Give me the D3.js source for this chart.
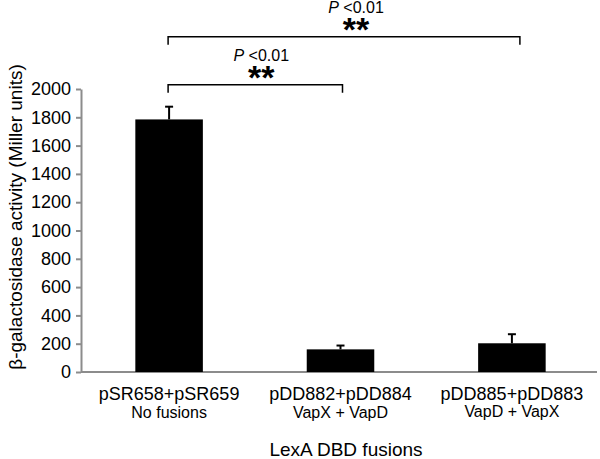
<!DOCTYPE html>
<html>
<head>
  <meta charset="utf-8">
  <style>
    body { margin: 0; background: #fff; }
    svg { display: block; font-family: "Liberation Sans", Arial, sans-serif; }
    .axis path, .axis line { stroke: #8c8c8c; stroke-width: 2; fill: none; }
    .axis text { fill: #000; font-size: 18px; }
  </style>
</head>
<body>
<svg width="600" height="459"></svg>
<script src="https://d3js.org/d3.v7.min.js"></script>
<script>
  // data
  var plasmids = ["pSR658+pSR659", "pDD882+pDD884", "pDD885+pDD883"];
  var fusions = ["No fusions", "VapX + VapD", "VapD + VapX"];
  var activity = [1785, 160, 203];
  var errors = [90, 27, 64];
  var yTicks = [0, 200, 400, 600, 800, 1000, 1200, 1400, 1600, 1800, 2000];
  // significance brackets: from bar a to bar b, bracket level in Miller units
  var brackets = [
    {a: 0, b: 1, level: 2030, label: "<0.01", stars: "**"},
    {a: 0, b: 2, level: 2370, label: "<0.01", stars: "**"}
  ];

  var svg = d3.select("svg");
  var mLeft = 81, mRight = 600, mTop = 89, mBottom = 372;

  var x = d3.scaleBand()
    .domain(plasmids)
    .range([mLeft, mRight])
    .paddingInner(0.606)
    .paddingOuter(0.317);

  var y = d3.scaleLinear()
    .domain([0, 2000])
    .range([mBottom, mTop]);

  // y axis
  svg.append("g")
    .attr("class", "axis")
    .attr("transform", "translate(" + mLeft + ",0)")
    .call(d3.axisLeft(y).tickValues(yTicks).tickFormat(d3.format("d"))
      .tickSize(5).tickSizeOuter(0).tickPadding(5));

  // x axis line
  svg.append("line")
    .attr("x1", mLeft).attr("x2", 597)
    .attr("y1", y(0)).attr("y2", y(0))
    .attr("stroke", "#8c8c8c").attr("stroke-width", 2);

  // bars
  svg.selectAll("rect.bar")
    .data(activity)
    .enter().append("rect")
    .attr("class", "bar")
    .attr("x", function(d, i) { return x(plasmids[i]); })
    .attr("y", function(d) { return y(d); })
    .attr("width", x.bandwidth())
    .attr("height", function(d) { return y(0) - y(d); })
    .attr("fill", "#000");

  // error bars (upper only)
  var err = svg.selectAll("g.err")
    .data(activity)
    .enter().append("g")
    .attr("class", "err")
    .attr("stroke", "#000")
    .attr("stroke-width", 2);

  err.append("line")
    .attr("x1", function(d, i) { return x(plasmids[i]) + x.bandwidth() / 2; })
    .attr("x2", function(d, i) { return x(plasmids[i]) + x.bandwidth() / 2; })
    .attr("y1", function(d) { return y(d); })
    .attr("y2", function(d, i) { return y(d + errors[i]); });

  err.append("line")
    .attr("x1", function(d, i) { return x(plasmids[i]) + x.bandwidth() / 2 - 4; })
    .attr("x2", function(d, i) { return x(plasmids[i]) + x.bandwidth() / 2 + 4; })
    .attr("y1", function(d, i) { return y(d + errors[i]); })
    .attr("y2", function(d, i) { return y(d + errors[i]); });

  // category labels
  var lab = svg.append("g").attr("text-anchor", "middle").attr("fill", "#000");
  lab.selectAll("text.p")
    .data(plasmids)
    .enter().append("text")
    .attr("x", function(d) { return x(d) + x.bandwidth() / 2; })
    .attr("y", 400)
    .attr("font-size", 18)
    .text(function(d) { return d; });
  lab.selectAll("text.f")
    .data(fusions)
    .enter().append("text")
    .attr("x", function(d, i) { return x(plasmids[i]) + x.bandwidth() / 2; })
    .attr("y", function(d, i) { return i == 2 ? 417 : 418; })
    .attr("font-size", 16)
    .text(function(d) { return d; });

  // axis titles
  svg.append("text")
    .attr("x", 346).attr("y", 456)
    .attr("text-anchor", "middle")
    .attr("font-size", 19)
    .text("LexA DBD fusions");

  svg.append("text")
    .attr("transform", "translate(22," + 217 + ") rotate(-90)")
    .attr("text-anchor", "middle")
    .attr("font-size", 19)
    .text("\u03b2-galactosidase activity (Miller units)");

  // significance brackets
  brackets.forEach(function(b) {
    var x1 = x(plasmids[b.a]) + x.bandwidth() / 2 - 1;
    var x2 = x(plasmids[b.b]) + x.bandwidth() / 2 + (b.b == 2 ? 8 : 2);
    var yy = y(b.level);
    svg.append("path")
      .attr("d", "M" + x1 + "," + (yy + 8) + "V" + yy + "H" + x2 + "V" + (yy + 8))
      .attr("fill", "none")
      .attr("stroke", "#000")
      .attr("stroke-width", 1.5);
    var cx = (x1 + x2) / 2 + (b.b == 2 ? 12 : 6);
    var t = svg.append("text")
      .attr("x", cx).attr("y", yy - 24)
      .attr("text-anchor", "middle")
      .attr("font-size", 16);
    t.append("tspan").attr("font-style", "italic").text("P");
    t.append("tspan").text(" " + b.label);
    svg.append("text")
      .attr("x", cx).attr("y", yy + 4)
      .attr("text-anchor", "middle")
      .attr("font-size", 34)
      .attr("font-weight", "bold")
      .text(b.stars);
  });
</script>
</body>
</html>
